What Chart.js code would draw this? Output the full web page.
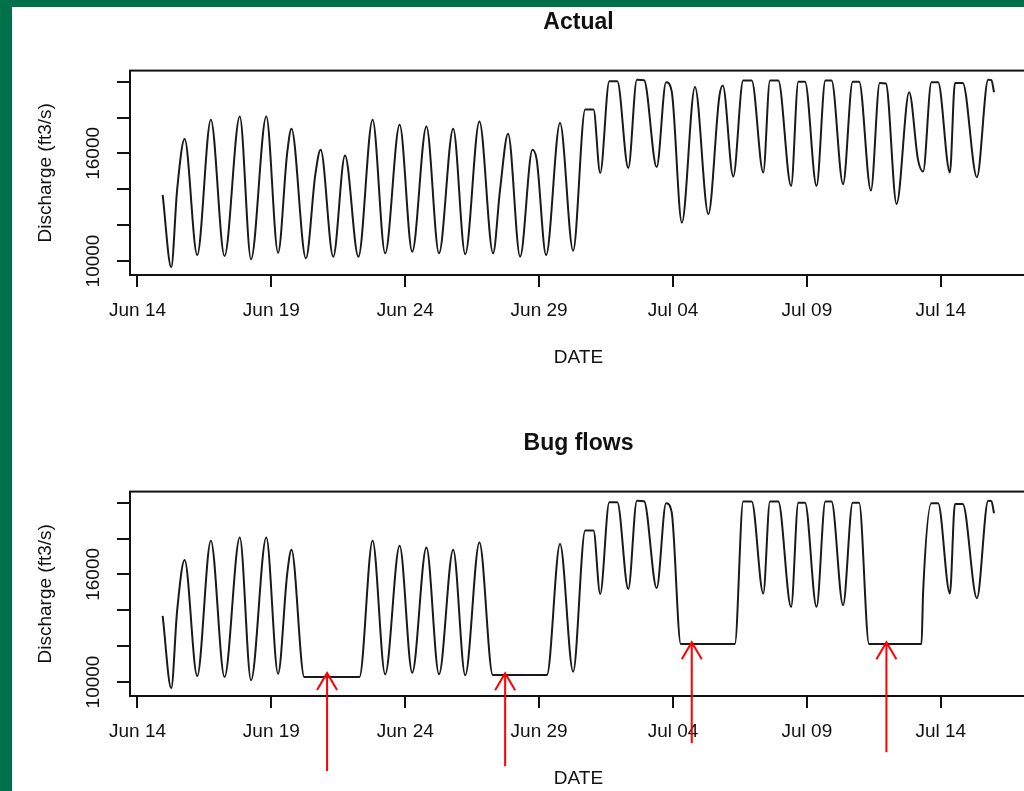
<!DOCTYPE html>
<html>
<head>
<meta charset="utf-8">
<script src="https://cdn.jsdelivr.net/npm/chart.js@4/dist/chart.umd.min.js"></script>
<style>
html, body { margin: 0; padding: 0; width: 1024px; height: 791px; overflow: hidden; background: #00704a; }
#sheet { position: absolute; left: 12px; top: 7px; width: 1012px; height: 784px; background: #fff; }
canvas { position: absolute; left: 0; }
#c1 { top: 0; }
#c2 { top: 421px; }
</style>
</head>
<body>
<div id="sheet"></div>
<canvas id="c1" width="1040" height="370"></canvas>
<canvas id="c2" width="1040" height="370"></canvas>
<script>
// time in days since Jun 14 00:00, discharge in ft3/s
var actualDay = [
    0.94, 1.26, 1.48, 1.76, 2.23, 2.74, 3.25, 3.82, 4.24, 4.81,
    5.25, 5.59, 5.75, 6.29, 6.64, 6.84, 7.31, 7.75, 8.25, 8.78,
    9.25, 9.79, 10.26, 10.79, 11.26, 11.79, 12.24, 12.77, 13.28, 13.54,
    13.84, 14.29, 14.75, 14.91, 15.26, 15.78, 16.27, 16.72, 17.03, 17.28,
    17.62, 17.92, 18.33, 18.65, 18.92, 19.39, 19.74, 19.95, 20.33, 20.82,
    21.32, 21.73, 21.86, 22.25, 22.62, 22.94, 23.37, 23.62, 23.93, 24.41,
    24.68, 24.93, 25.36, 25.69, 25.92, 26.35, 26.71, 26.95, 27.39, 27.72,
    27.95, 28.35, 28.82, 29.15, 29.34, 29.65, 29.90, 30.34, 30.53, 30.82,
    31.35, 31.77, 31.89, 31.99
];
var actualFlow = [
    13690, 9650, 13970, 16800, 10335, 17880, 10280, 18060, 10095, 18060,
    10465, 16020, 17375, 10150, 14805, 16200, 10240, 15880, 10240, 17880,
    10430, 17600, 10520, 17505, 10430, 17375, 10375, 17780, 10430, 13970,
    17095, 10240, 16200, 15640, 10335, 17690, 10575, 18440, 18440, 14900,
    20020, 20020, 15180, 20110, 20080, 15235, 19960, 19460, 12140, 19700,
    12625, 19180, 19780, 14710, 20060, 20060, 14935, 20060, 20060, 14190,
    20000, 20000, 14190, 20060, 20060, 14285, 20000, 20000, 13930, 19930,
    19900, 13185, 19405, 15640, 14990, 19960, 19960, 14935, 19930, 19930,
    14675, 20110, 20080, 19405
];

// weekends held at a steady release in the bug flow scenario
var bugStart = [6.23, 13.27, 20.29, 27.32];
var bugEnd = [8.29, 15.29, 22.31, 29.28];
var bugLevel = [10280, 10390, 12123, 12123];

var tickDays = [0, 5, 10, 15, 20, 25, 30];
var tickLabels = ['Jun 14', 'Jun 19', 'Jun 24', 'Jun 29', 'Jul 04', 'Jul 09', 'Jul 14'];
var flowTicks = [10000, 12000, 14000, 16000, 18000, 20000];
var flowLabels = [10000, 16000];

// red arrows pointing at the steady weekend flows
var arrowDay = [7.08, 13.73, 20.70, 27.97];
var arrowFlow = [10500, 10490, 12220, 12220];
var arrowLength = [98, 93, 101, 110];

var fontFamily = "'Liberation Sans', Arial, sans-serif";
var axisFont = { family: fontFamily, size: 19 };
var ink = '#111';

function actualPoints() {
    return actualDay.map(function (d, i) {
        return { x: d, y: actualFlow[i] };
    });
}

function bugPoints() {
    var pts = [];
    var w = 0;
    for (var i = 0; i < actualDay.length; i++) {
        var d = actualDay[i];
        while (w < bugStart.length && d >= bugStart[w]) {
            pts.push({ x: bugStart[w], y: bugLevel[w] });
            pts.push({ x: bugEnd[w], y: bugLevel[w] });
            w++;
        }
        var inside = false;
        for (var k = 0; k < bugStart.length; k++) {
            if (d >= bugStart[k] && d <= bugEnd[k]) inside = true;
        }
        if (!inside) pts.push({ x: d, y: actualFlow[i] });
    }
    return pts;
}

var frame = {
    id: 'frame',
    afterDraw: function (chart) {
        var a = chart.chartArea, ctx = chart.ctx;
        ctx.save();
        ctx.strokeStyle = ink;
        ctx.lineWidth = 2;
        ctx.strokeRect(a.left, a.top, a.right - a.left, a.bottom - a.top);
        ctx.restore();
    }
};

var arrows = {
    id: 'arrows',
    afterDraw: function (chart) {
        var sx = chart.scales.x, sy = chart.scales.y, ctx = chart.ctx;
        ctx.save();
        ctx.strokeStyle = '#ff0000';
        ctx.lineWidth = 2;
        arrowDay.forEach(function (d, i) {
            var px = sx.getPixelForValue(d);
            var py = sy.getPixelForValue(arrowFlow[i]);
            ctx.beginPath();
            ctx.moveTo(px, py + arrowLength[i]);
            ctx.lineTo(px, py);
            ctx.moveTo(px - 10, py + 17);
            ctx.lineTo(px, py);
            ctx.lineTo(px + 10, py + 17);
            ctx.stroke();
        });
        ctx.restore();
    }
};

function makeChart(id, title, points, extra) {
    var plugins = [frame];
    if (extra) plugins.push(extra);
    return new Chart(document.getElementById(id), {
        type: 'line',
        data: {
            datasets: [{
                data: points,
                borderColor: '#1a1a1a',
                borderWidth: 2,
                pointRadius: 0,
                fill: false,
                cubicInterpolationMode: 'monotone'
            }]
        },
        options: {
            responsive: false,
            animation: false,
            devicePixelRatio: 1,
            layout: { padding: { left: 0, right: 13, top: 0, bottom: 0 } },
            plugins: {
                legend: { display: false },
                tooltip: { enabled: false },
                title: {
                    display: true,
                    text: title,
                    fullSize: false,
                    color: ink,
                    font: { family: fontFamily, size: 23, weight: 'bold' },
                    padding: { top: 9, bottom: 34 }
                }
            },
            scales: {
                x: {
                    type: 'linear',
                    min: -0.28,
                    max: 33.22,
                    afterBuildTicks: function (s) {
                        s.ticks = tickDays.map(function (v) { return { value: v }; });
                    },
                    afterFit: function (s) { s.height = 95; },
                    ticks: {
                        autoSkip: false,
                        maxRotation: 0,
                        padding: 12,
                        color: ink,
                        font: axisFont,
                        callback: function (v, i) { return tickLabels[i]; }
                    },
                    grid: { drawOnChartArea: false, tickLength: 12, color: ink, lineWidth: 2 },
                    border: { display: true, color: ink, width: 2 },
                    title: {
                        display: true,
                        text: 'DATE',
                        color: ink,
                        font: axisFont,
                        padding: { top: 0, bottom: 1 }
                    }
                },
                y: {
                    min: 9220,
                    max: 20615,
                    afterBuildTicks: function (s) {
                        s.ticks = flowTicks.map(function (v) { return { value: v }; });
                    },
                    afterFit: function (s) { s.width = 130; },
                    ticks: {
                        autoSkip: false,
                        minRotation: 90,
                        maxRotation: 90,
                        crossAlign: 'center',
                        padding: -3,
                        color: ink,
                        font: axisFont,
                        callback: function (v) {
                            return flowLabels.indexOf(v) >= 0 ? String(v) : '';
                        }
                    },
                    grid: { drawOnChartArea: false, tickLength: 13, color: ink, lineWidth: 2 },
                    border: { display: true, color: ink, width: 2 },
                    title: {
                        display: true,
                        text: 'Discharge (ft3/s)',
                        color: ink,
                        font: axisFont,
                        padding: { top: 34, bottom: 0 }
                    }
                }
            }
        },
        plugins: plugins
    });
}

makeChart('c1', 'Actual', actualPoints(), null);
makeChart('c2', 'Bug flows', bugPoints(), arrows);
</script>
</body>
</html>
